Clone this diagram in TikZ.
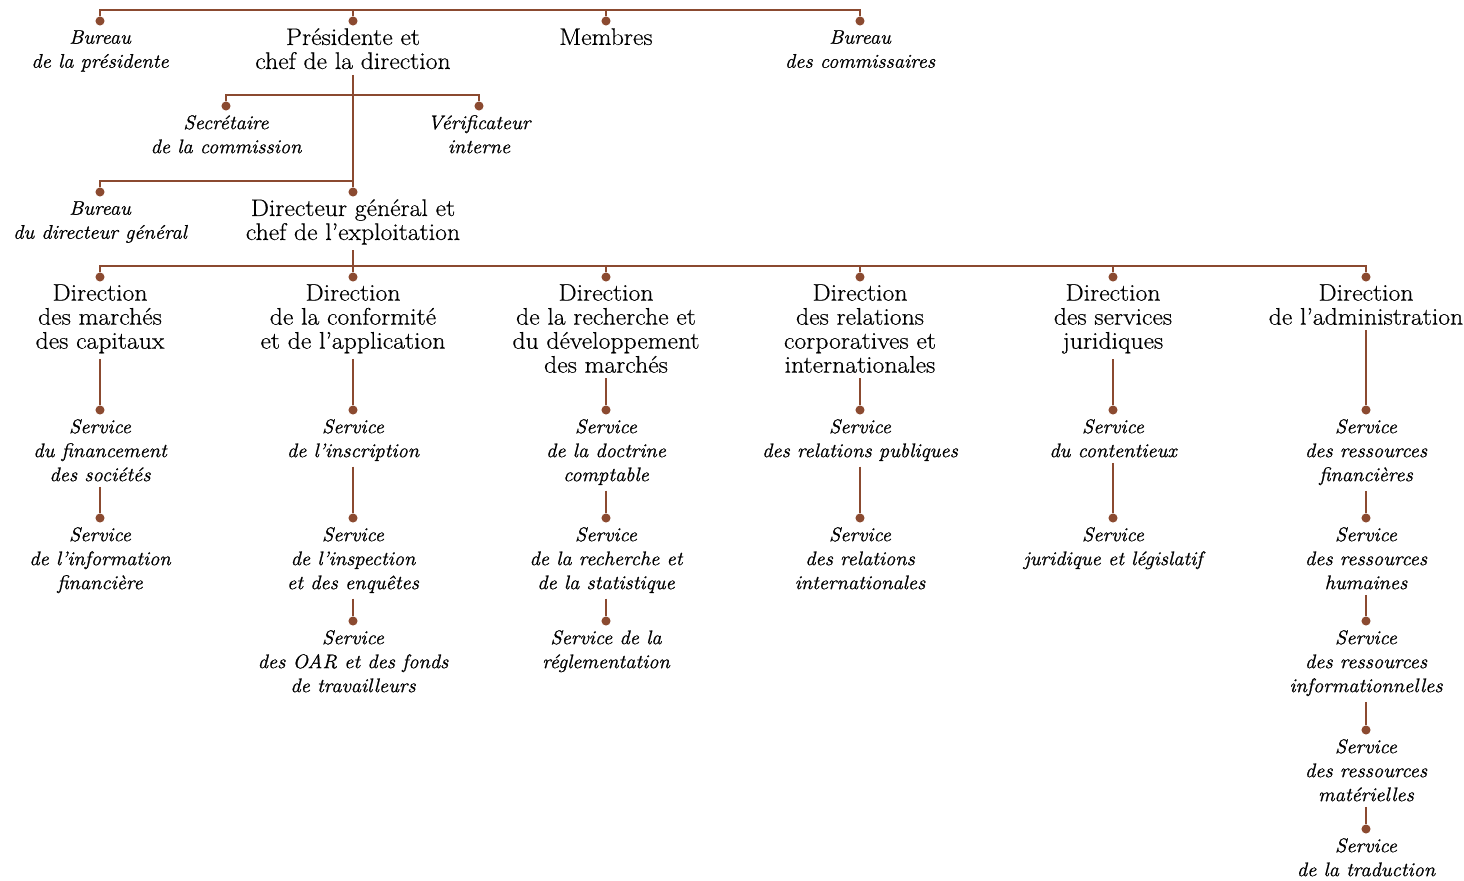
\documentclass[tikz,border=0pt]{standalone}
\usepackage{fontspec}
\newfontfamily\romf{Latin Modern Roman}[Ligatures=TeX, FakeStretch=1.07, FakeBold=0.5]
\newfontfamily\itaf{Latin Modern Roman}[Ligatures=TeX, FakeStretch=1.04, FakeBold=0.9]
\definecolor{brn}{RGB}{139,74,48}
\begin{document}
\begin{tikzpicture}[x=0.75pt,y=-0.75pt,
  rom/.style={font=\romf\fontsize{18}{18}\selectfont, align=center, inner sep=0pt, anchor=north},
  ita/.style={font=\itaf\itshape\fontsize{14.8}{18}\selectfont, align=center, inner sep=0pt, anchor=north},
  dot/.style={circle, fill=brn, inner sep=0pt, minimum size=6.8pt},
  link/.style={draw=brn, line width=1.1pt},
  drop/.style={link, shorten <=4pt}]
\useasboundingbox (0,0) rectangle (1464,881);

% ---- top level
\coordinate (top) at (353,10);
\node[dot] (dbp) at (100,21) {};
\node[dot] (dpres) at (353,21) {};
\node[dot] (dmem) at (606,21) {};
\node[dot] (dbc) at (860,21) {};
\node[ita] (bp) at (100,30) {Bureau\\de la présidente};
\node[rom] (pres) at (353,28) {Présidente et\\chef de la direction};
\node[rom] (mem) at (606,28) {Membres};
\node[ita] (bc) at (860,30) {Bureau\\des commissaires};
\draw[link] (dbp) |- (top) -| (dbc);
\draw[link] (dpres) -- (dpres|-top);
\draw[link] (dmem) -- (dmem|-top);

% ---- president's branch
\coordinate (j1) at (353,95);
\coordinate (j2) at (353,181);
\node[dot] (dsec) at (226,106) {};
\node[dot] (dver) at (479,106) {};
\node[ita] (sec) at (226,115) {Secrétaire\\de la commission};
\node[ita] (ver) at (479,115) {Vérificateur\\interne};
\node[dot] (dbdg) at (100,192) {};
\node[dot] (ddg) at (353,192) {};
\node[ita] (bdg) at (100,201) {Bureau\\du directeur général};
\node[rom] (dg) at (353,199) {Directeur général et\\chef de l’exploitation};
\draw[drop] (pres) -- (j2);
\draw[link] (dsec) |- (j1) -| (dver);
\draw[link] (dbdg) |- (j2) -- (ddg);

% ---- directions
\coordinate (j3) at (353,266);
\draw[drop] (dg) -- (j3);
\foreach \n/\x in {1/100,2/353,3/606,4/860,5/1113,6/1366}{
  \node[dot] (dD\n) at (\x,277) {};
}
\draw[link] (dD1) |- (j3) -| (dD6);
\foreach \n in {2,3,4,5}{ \draw[link] (dD\n) -- (dD\n|-j3); }
\node[rom] (D1) at (100,284) {Direction\\des marchés\\des capitaux};
\node[rom] (D2) at (353,284) {Direction\\de la conformité\\et de l’application};
\node[rom] (D3) at (606,284) {Direction\\de la recherche et\\du développement\\des marchés};
\node[rom] (D4) at (860,284) {Direction\\des relations\\corporatives et\\internationales};
\node[rom] (D5) at (1113,284) {Direction\\des services\\juridiques};
\node[rom] (D6) at (1366,284) {Direction\\de l’administration};

% ---- services
% column 1
\node[dot] (ds11) at (100,410) {};
\node[ita] (s11) at (100,419) {Service\\du financement\\des sociétés};
\node[dot] (ds12) at (100,518) {};
\node[ita] (s12) at (100,527) {Service\\de l’information\\financière};
\draw[drop] (D1) -- (ds11);
\draw[drop] (s11) -- (ds12);
% column 2
\node[dot] (ds21) at (353,410) {};
\node[ita] (s21) at (353,419) {Service\\de l’inscription};
\node[dot] (ds22) at (353,518) {};
\node[ita] (s22) at (353,527) {Service\\de l’inspection\\et des enquêtes};
\node[dot] (ds23) at (353,621) {};
\node[ita] (s23) at (353,630) {Service\\des OAR et des fonds\\de travailleurs};
\draw[drop] (D2) -- (ds21);
\draw[drop] (s21) -- (ds22);
\draw[drop] (s22) -- (ds23);
% column 3
\node[dot] (ds31) at (606,410) {};
\node[ita] (s31) at (606,419) {Service\\de la doctrine\\comptable};
\node[dot] (ds32) at (606,518) {};
\node[ita] (s32) at (606,527) {Service\\de la recherche et\\de la statistique};
\node[dot] (ds33) at (606,621) {};
\node[ita] (s33) at (606,630) {Service de la\\réglementation};
\draw[drop] (D3) -- (ds31);
\draw[drop] (s31) -- (ds32);
\draw[drop] (s32) -- (ds33);
% column 4
\node[dot] (ds41) at (860,410) {};
\node[ita] (s41) at (860,419) {Service\\des relations publiques};
\node[dot] (ds42) at (860,518) {};
\node[ita] (s42) at (860,527) {Service\\des relations\\internationales};
\draw[drop] (D4) -- (ds41);
\draw[drop] (s41) -- (ds42);
% column 5
\node[dot] (ds51) at (1113,410) {};
\node[ita] (s51) at (1113,419) {Service\\du contentieux};
\node[dot] (ds52) at (1113,518) {};
\node[ita] (s52) at (1113,527) {Service\\juridique et législatif};
\draw[drop] (D5) -- (ds51);
\draw[drop] (s51) -- (ds52);
% column 6
\node[dot] (ds61) at (1366,410) {};
\node[ita] (s61) at (1366,419) {Service\\des ressources\\financières};
\node[dot] (ds62) at (1366,518) {};
\node[ita] (s62) at (1366,527) {Service\\des ressources\\humaines};
\node[dot] (ds63) at (1366,621) {};
\node[ita] (s63) at (1366,630) {Service\\des ressources\\informationnelles};
\node[dot] (ds64) at (1366,730) {};
\node[ita] (s64) at (1366,739) {Service\\des ressources\\matérielles};
\node[dot] (ds65) at (1366,829) {};
\node[ita] (s65) at (1366,838) {Service\\de la traduction};
\draw[drop] (D6) -- (ds61);
\draw[drop] (s61) -- (ds62);
\draw[drop] (s62) -- (ds63);
\draw[drop] (s63) -- (ds64);
\draw[drop] (s64) -- (ds65);
\end{tikzpicture}
\end{document}
